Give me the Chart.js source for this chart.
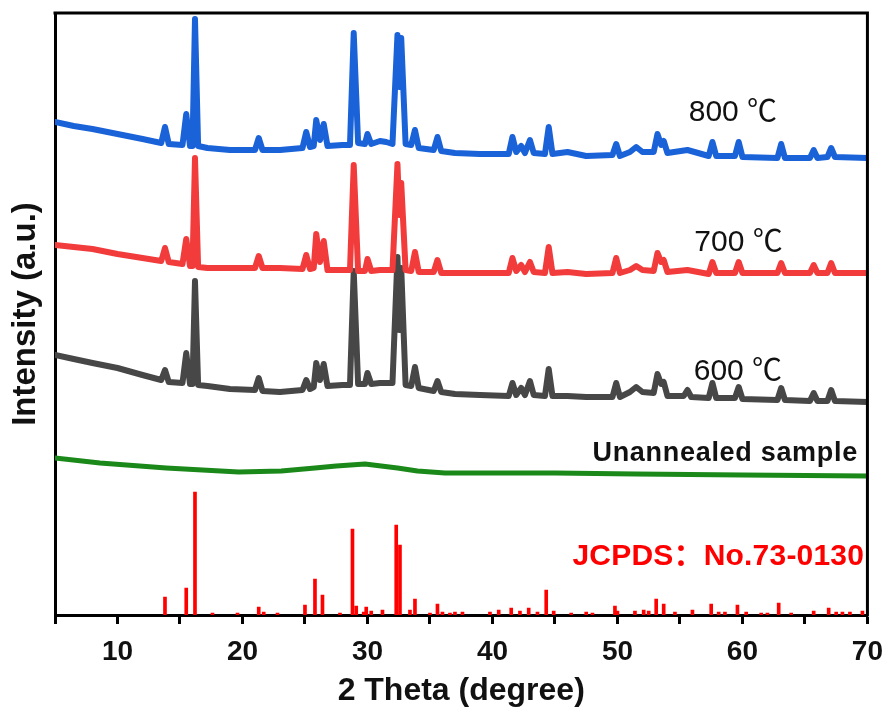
<!DOCTYPE html>
<html>
<head>
<meta charset="utf-8">
<script src="https://cdn.jsdelivr.net/npm/chart.js@4.4.0/dist/chart.umd.min.js"></script>
<style>
  html, body { margin: 0; padding: 0; background: #fff; }
  #wrap { width: 894px; height: 714px; }
</style>
</head>
<body>
<div id="wrap"><canvas id="xrdChart"></canvas></div>
<script>
// x axis ticks (2 theta, degree) - labels only on the major ones
const tickValues = [5, 10, 15, 20, 25, 30, 35, 40, 45, 50, 55, 60, 65, 70];
const tickLabels = [10, 20, 30, 40, 50, 60, 70];

// [2theta, intensity], curves are stacked with an offset
const curve800 = [
  [5.0, 493], [6.5, 489], [8.0, 486], [10.0, 481], [12.0, 476], [13.5, 472], [13.8, 488], [14.1, 471],
  [15.2, 470], [15.5, 501], [15.8, 469], [16.0, 469], [16.2, 596], [16.45, 469], [17.2, 467], [19.0, 465],
  [21.0, 465], [21.3, 477], [21.6, 465], [23.0, 465], [24.8, 467], [25.1, 483], [25.4, 468], [25.7, 469],
  [25.9, 495], [26.2, 475], [26.5, 491], [26.8, 469], [28.0, 470], [28.6, 470], [28.9, 582], [29.25, 472],
  [29.8, 471], [30.0, 481], [30.3, 471], [31.0, 474], [31.5, 473], [32.0, 471], [32.4, 580], [32.55, 528],
  [32.7, 577], [33.05, 471], [33.5, 470], [33.8, 485], [34.1, 467], [35.3, 465], [35.6, 478], [35.9, 464],
  [37.0, 462], [39.0, 461], [41.3, 461], [41.6, 478], [41.9, 463], [42.3, 469], [42.6, 462], [43.0, 475],
  [43.3, 462], [44.2, 461], [44.5, 488], [44.8, 461], [46.0, 463], [47.5, 459], [49.6, 460], [49.9, 471],
  [50.2, 459], [51.0, 463], [51.5, 468], [52.0, 463], [52.9, 463], [53.2, 481], [53.5, 470], [53.7, 474],
  [54.0, 462], [55.6, 465], [57.3, 459], [57.6, 473], [57.9, 459], [59.4, 459], [59.7, 473], [60.0, 458],
  [62.8, 457], [63.1, 471], [63.4, 457], [65.4, 457], [65.7, 465], [66.0, 457], [66.8, 458], [67.1, 467],
  [67.4, 458], [70.0, 457]
];

const curve700 = [
  [5.0, 370], [6.5, 368], [8.0, 366], [10.0, 361], [12.0, 357], [13.5, 354], [13.8, 367], [14.1, 353],
  [15.2, 351], [15.5, 376], [15.8, 349], [16.0, 349], [16.2, 457], [16.45, 348], [17.2, 347], [19.0, 347],
  [21.0, 347], [21.3, 359], [21.6, 347], [23.0, 347], [24.8, 346], [25.1, 360], [25.4, 346], [25.7, 347],
  [25.9, 381], [26.2, 353], [26.5, 374], [26.8, 345], [28.0, 345], [28.6, 345], [28.9, 450], [29.25, 344],
  [29.8, 344], [30.0, 356], [30.3, 344], [31.0, 345], [32.0, 345], [32.4, 451], [32.55, 400], [32.7, 432],
  [33.05, 345], [33.5, 344], [33.8, 363], [34.1, 343], [35.3, 343], [35.6, 355], [35.9, 342], [37.0, 342],
  [39.0, 342], [41.3, 342], [41.6, 357], [41.9, 344], [42.3, 350], [42.6, 343], [43.0, 353], [43.3, 343],
  [44.2, 342], [44.5, 368], [44.8, 342], [46.0, 343], [47.5, 341], [49.6, 342], [49.9, 357], [50.2, 342],
  [51.0, 345], [51.5, 349], [52.0, 345], [52.9, 344], [53.2, 362], [53.5, 353], [53.7, 355], [54.0, 343],
  [55.6, 345], [57.3, 341], [57.6, 353], [57.9, 342], [59.4, 342], [59.7, 353], [60.0, 342], [62.8, 342],
  [63.1, 352], [63.4, 342], [65.4, 342], [65.7, 350], [66.0, 342], [66.8, 342], [67.1, 352], [67.4, 342],
  [70.0, 342]
];

const curve600 = [
  [5.0, 260], [6.5, 256], [8.0, 252], [10.0, 247], [12.0, 240], [13.5, 235], [13.8, 245], [14.1, 233],
  [15.2, 232], [15.5, 262], [15.8, 231], [16.0, 231], [16.2, 334], [16.45, 230], [17.2, 229], [19.0, 226],
  [21.0, 225], [21.3, 237], [21.6, 224], [23.0, 223], [24.8, 225], [25.1, 235], [25.4, 226], [25.7, 228],
  [25.9, 252], [26.2, 235], [26.5, 251], [26.8, 229], [28.0, 230], [28.6, 230], [28.9, 344], [29.25, 231],
  [29.8, 231], [30.0, 242], [30.3, 231], [31.0, 232], [32.0, 232], [32.4, 358], [32.55, 285], [32.7, 347],
  [33.05, 230], [33.5, 229], [33.8, 248], [34.1, 227], [35.3, 224], [35.6, 234], [35.9, 223], [37.0, 221],
  [39.0, 220], [41.3, 219], [41.6, 232], [41.9, 220], [42.3, 227], [42.6, 220], [43.0, 234], [43.3, 220],
  [44.2, 219], [44.5, 246], [44.8, 219], [46.0, 219], [47.5, 218], [49.6, 218], [49.9, 232], [50.2, 218],
  [51.0, 223], [51.5, 228], [52.0, 223], [52.9, 222], [53.2, 241], [53.5, 231], [53.7, 233], [54.0, 219],
  [55.3, 219], [55.6, 225], [55.9, 218], [57.3, 217], [57.6, 232], [57.9, 217], [59.4, 217], [59.7, 228],
  [60.0, 216], [62.8, 215], [63.1, 227], [63.4, 215], [65.4, 214], [65.7, 222], [66.0, 214], [66.8, 214],
  [67.1, 225], [67.4, 214], [70.0, 213]
];

const curveRaw = [
  [5.0, 157], [8.6, 152], [13.9, 147], [19.7, 143], [23.1, 144], [25.8, 147], [27.5, 149], [29.8, 151],
  [32.4, 147], [34.0, 144], [36.2, 142], [45.0, 142], [51.5, 141], [60.0, 140], [70.0, 139]
];

// JCPDS No.73-0130 reference lines [2theta, relative height]
const refLines = [
  [13.8, 18], [15.5, 27], [16.2, 123], [17.6, 2], [19.6, 2], [21.3, 8], [21.7, 3], [22.8, 2],
  [25.0, 10], [25.8, 36], [26.4, 20], [27.8, 2], [28.8, 86], [29.1, 9], [29.7, 3], [29.9, 8],
  [30.3, 4], [31.2, 5], [32.3, 90], [32.6, 70], [33.4, 5], [33.8, 16], [35.0, 2], [35.6, 11],
  [36.0, 3], [36.6, 2], [37.0, 3], [37.6, 3], [39.8, 3], [40.5, 5], [41.5, 7], [42.2, 4],
  [42.9, 7], [43.6, 3], [44.3, 25], [44.9, 4], [46.3, 2], [47.5, 3], [48.0, 2], [49.8, 9],
  [50.0, 4], [51.4, 4], [52.1, 5], [52.5, 4], [53.1, 16], [53.7, 11], [54.6, 3], [56.0, 5],
  [57.5, 11], [58.1, 3], [58.6, 3], [59.6, 10], [60.3, 3], [61.5, 2], [62.0, 2], [62.9, 12],
  [63.9, 2], [65.7, 4], [66.9, 7], [67.5, 3], [68.0, 3], [68.6, 3], [69.6, 4]
];

const toXY = arr => arr.map(p => ({ x: p[0], y: p[1] }));

// labels written inside the plot, placed in data coordinates
const notes = [
  { text: '800 \u2103', x: 55.7, y: 502, font: '30px "Liberation Sans", "Noto Sans CJK SC"', color: '#111', spacing: 0 },
  { text: '700 \u2103', x: 56.15, y: 372, font: '30px "Liberation Sans", "Noto Sans CJK SC"', color: '#111', spacing: 0 },
  { text: '600 \u2103', x: 56.1, y: 243, font: '30px "Liberation Sans", "Noto Sans CJK SC"', color: '#111', spacing: 0 },
  { text: 'Unannealed sample', x: 48.0, y: 161, font: 'bold 27px "Liberation Sans"', color: '#111', spacing: 0.7 },
  { text: 'JCPDS\uFF1ANo.73-0130', x: 46.4, y: 58, font: 'bold 30px "Liberation Sans", "Noto Sans CJK SC"', color: '#ff0000', spacing: 0.2 }
];

const framePlugin = {
  id: 'frame',
  afterDatasetsDraw(chart) {
    const { ctx, chartArea: a, scales } = chart;
    ctx.save();
    // top and right sides of the box
    ctx.strokeStyle = '#000';
    ctx.lineWidth = 3;
    ctx.beginPath();
    ctx.moveTo(a.left - 1.5, a.top);
    ctx.lineTo(a.right, a.top);
    ctx.lineTo(a.right, a.bottom + 1.5);
    ctx.stroke();

    ctx.textBaseline = 'middle';
    ctx.textAlign = 'left';
    notes.forEach(n => {
      ctx.font = n.font;
      ctx.fillStyle = n.color;
      ctx.letterSpacing = n.spacing + 'px';
      ctx.fillText(n.text, scales.x.getPixelForValue(n.x), scales.y.getPixelForValue(n.y));
    });
    ctx.restore();
  }
};

const ctx = document.getElementById('xrdChart').getContext('2d');

new Chart(ctx, {
  type: 'line',
  data: {
    datasets: [
      { label: '800 ℃', data: toXY(curve800), borderColor: '#1a62d8', borderWidth: 6 },
      { label: '700 ℃', data: toXY(curve700), borderColor: '#f23c3c', borderWidth: 6 },
      { label: '600 ℃', data: toXY(curve600), borderColor: '#474747', borderWidth: 6 },
      { label: 'Unannealed sample', data: toXY(curveRaw), borderColor: '#1a891a', borderWidth: 5 },
      {
        type: 'bar',
        label: 'JCPDS No.73-0130',
        data: toXY(refLines),
        backgroundColor: '#ff0000',
        barThickness: 3
      }
    ]
  },
  options: {
    responsive: true,
    maintainAspectRatio: false,
    animation: false,
    layout: { padding: { top: 13, right: 22, left: 0, bottom: 0 } },
    elements: {
      point: { radius: 0 },
      line: { tension: 0, borderJoinStyle: 'round', borderCapStyle: 'round' }
    },
    plugins: {
      legend: { display: false },
      tooltip: { enabled: false }
    },
    scales: {
      x: {
        type: 'linear',
        min: 5,
        max: 70,
        offset: false,
        afterBuildTicks: scale => { scale.ticks = tickValues.map(v => ({ value: v })); },
        afterFit: scale => { scale.height = 99; },
        grid: {
          display: true,
          offset: false,
          drawOnChartArea: false,
          drawTicks: true,
          tickLength: 9,
          tickWidth: 3,
          tickColor: '#000'
        },
        border: { display: true, width: 3, color: '#000' },
        ticks: {
          autoSkip: false,
          maxRotation: 0,
          padding: 11,
          color: '#111',
          font: { family: '"Liberation Sans", Arial', size: 28, weight: 'bold' },
          callback: v => tickLabels.includes(v) ? String(v) : ''
        },
        title: {
          display: true,
          text: '2 Theta (degree)',
          color: '#111',
          padding: { top: 0, bottom: 4 },
          font: { family: '"Liberation Sans", Arial', size: 32, weight: 'bold' }
        }
      },
      y: {
        min: 0,
        max: 602,
        afterFit: scale => { scale.width = 55; },
        grid: { display: false },
        border: { display: true, width: 3, color: '#000' },
        ticks: { display: false },
        title: {
          display: true,
          text: 'Intensity (a.u.)',
          color: '#111',
          padding: { top: 6, bottom: 0 },
          font: { family: '"Liberation Sans", Arial', size: 33, weight: 'bold' }
        }
      }
    }
  },
  plugins: [framePlugin]
});
</script>
</body>
</html>
